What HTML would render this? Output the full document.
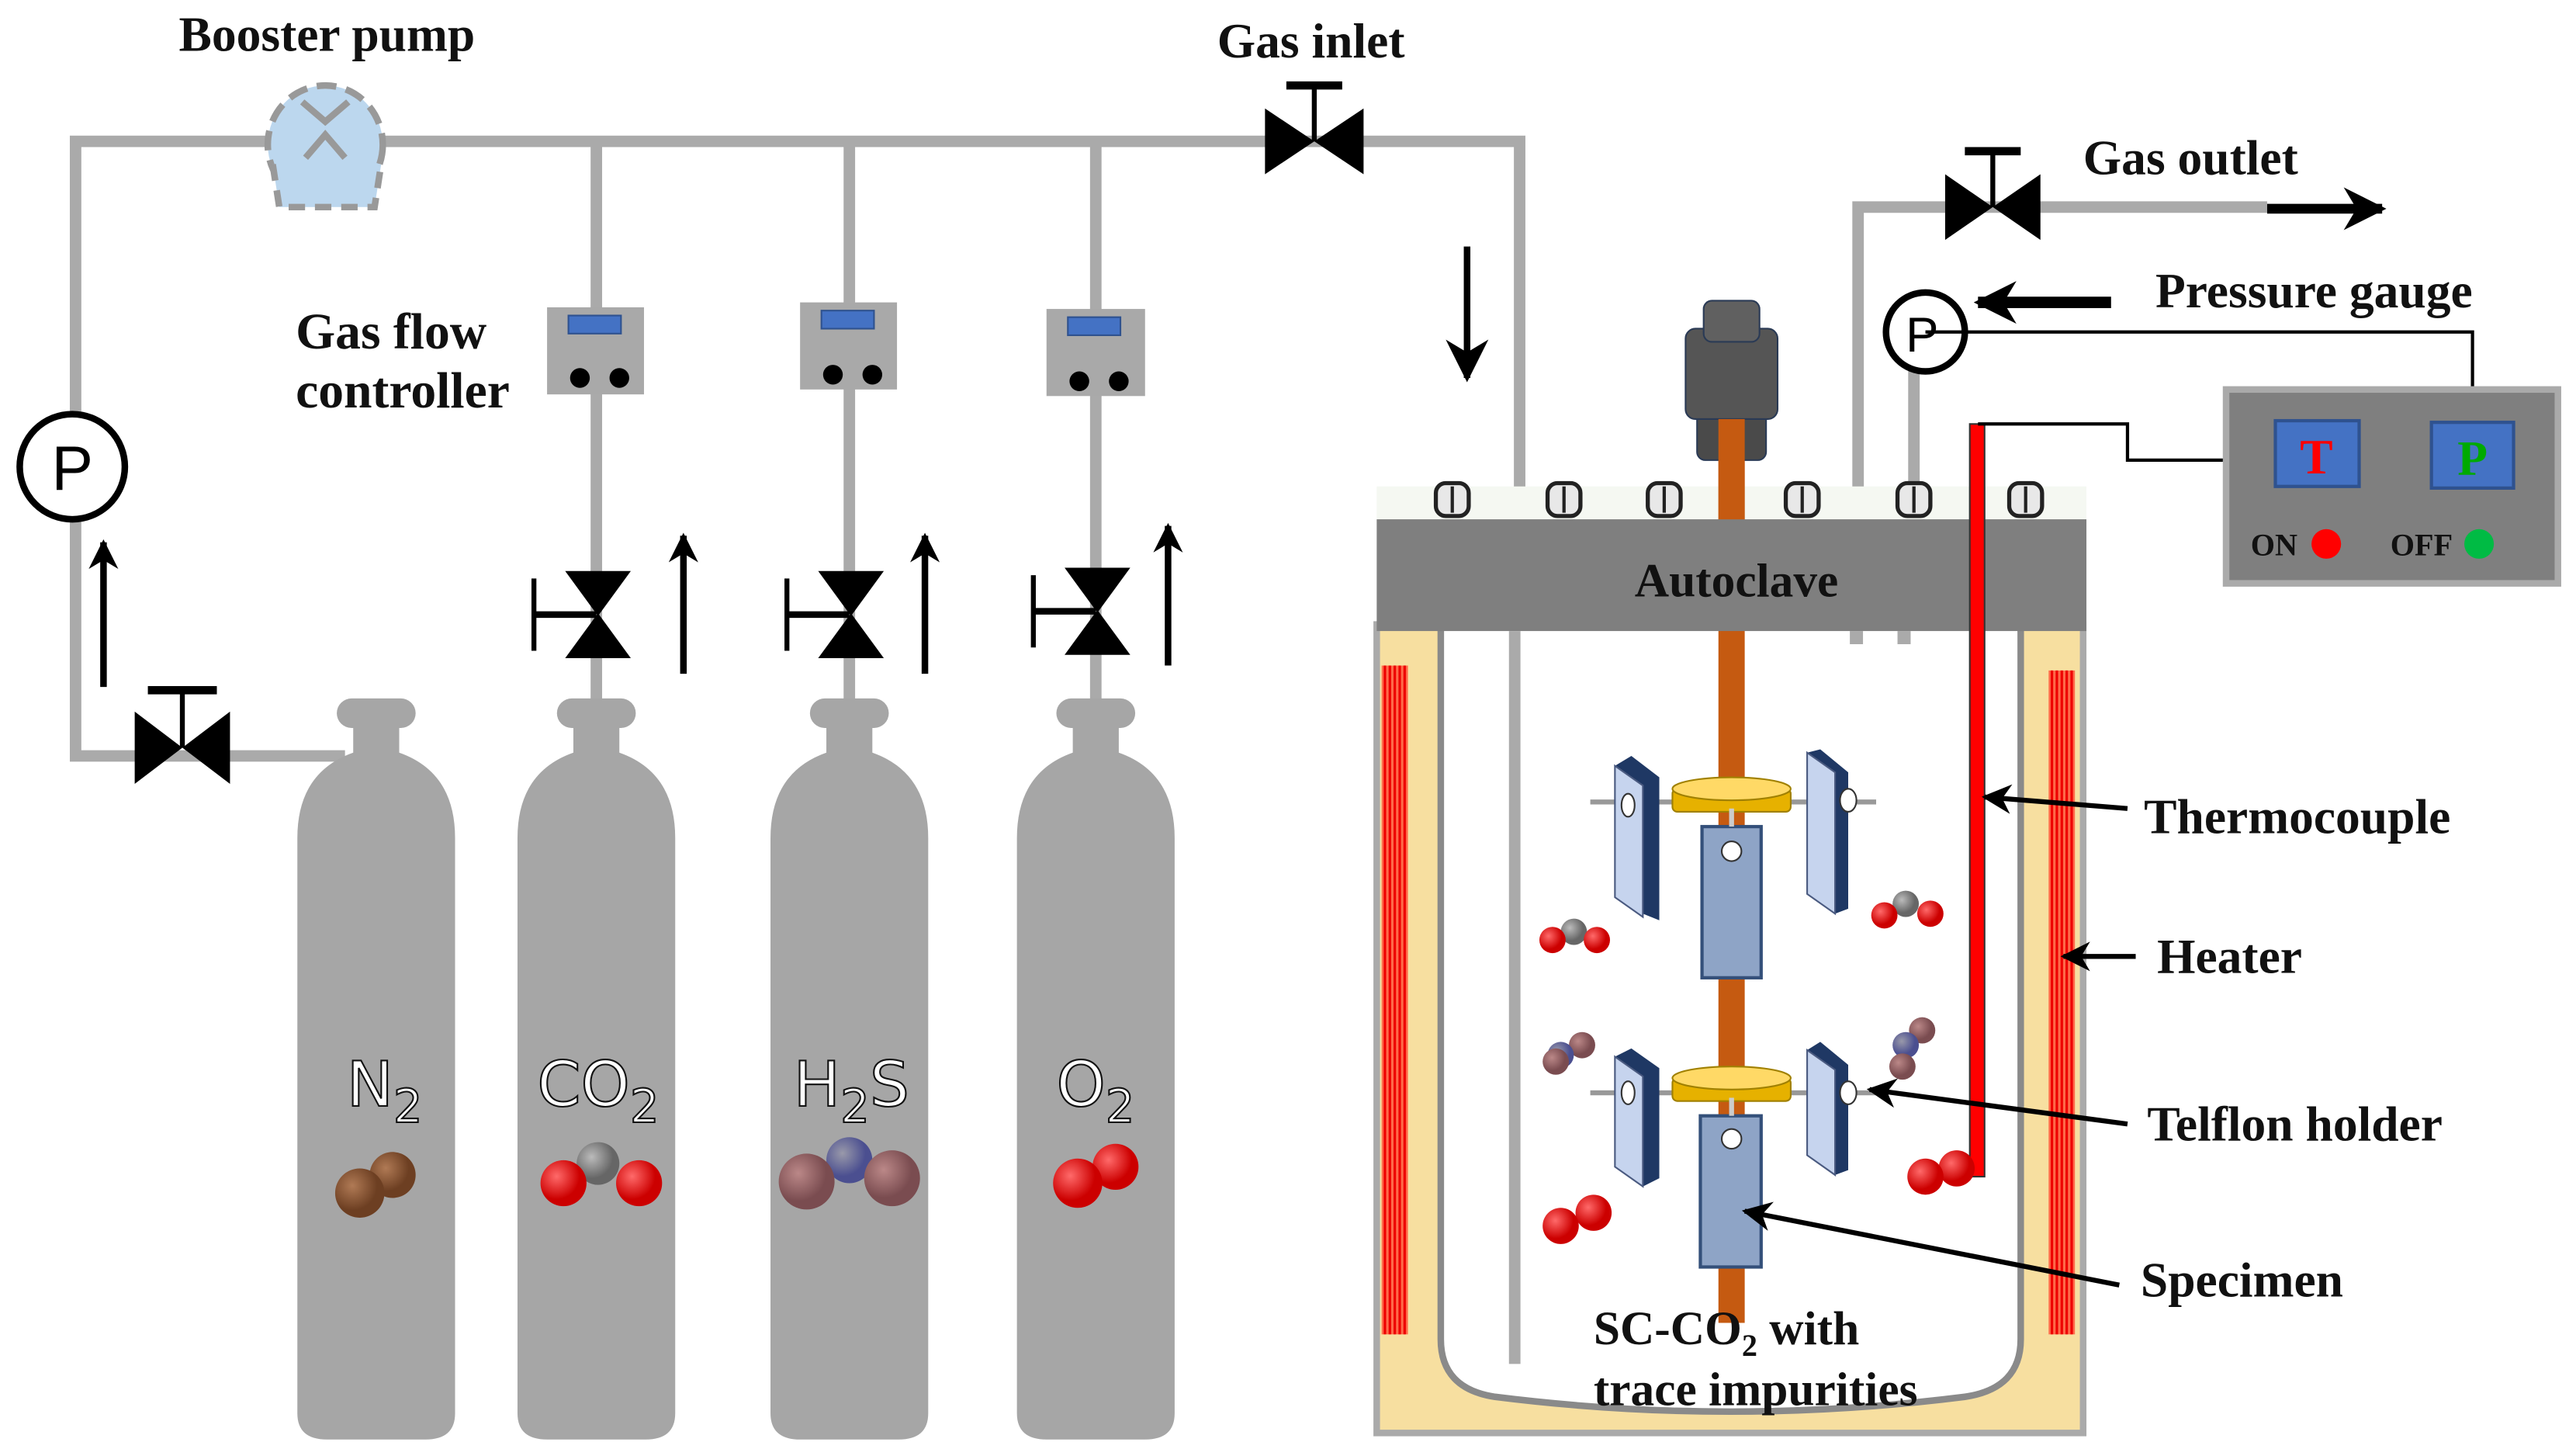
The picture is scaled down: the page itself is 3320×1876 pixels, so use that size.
<!DOCTYPE html>
<html><head><meta charset="utf-8"><style>
html,body{margin:0;padding:0;background:#fff}
svg{display:block}
.lb{font-family:"Liberation Serif",serif;font-weight:bold;fill:#111}
.gl{font-family:"DejaVu Sans","Liberation Sans",sans-serif;fill:#fff;stroke:#111;stroke-width:1}
</style></head><body>
<svg width="3320" height="1876" viewBox="0 0 1568 886" xmlns="http://www.w3.org/2000/svg">
<defs>
<marker id="ah" viewBox="0 0 10 10" refX="9" refY="5" markerWidth="4.5" markerHeight="4.5" orient="auto"><path d="M0,0 L10,5 L0,10 L3,5 Z" fill="#000"/></marker>
<marker id="ah2" viewBox="0 0 10 10" refX="9" refY="5" markerWidth="7" markerHeight="7" orient="auto" markerUnits="userSpaceOnUse"><path d="M0,0 L10,5 L0,10 L3,5 Z" fill="#000"/></marker>
<radialGradient id="gr" cx="35%" cy="35%"><stop offset="0" stop-color="#ff6a6a"/><stop offset="1" stop-color="#c00"/></radialGradient>
<radialGradient id="gb" cx="35%" cy="35%"><stop offset="0" stop-color="#b07a55"/><stop offset="1" stop-color="#6d3f22"/></radialGradient>
<radialGradient id="gg" cx="35%" cy="35%"><stop offset="0" stop-color="#bbb"/><stop offset="1" stop-color="#666"/></radialGradient>
<radialGradient id="gp" cx="35%" cy="35%"><stop offset="0" stop-color="#b88"/><stop offset="1" stop-color="#7a4c50"/></radialGradient>
<radialGradient id="gv" cx="35%" cy="35%"><stop offset="0" stop-color="#99a"/><stop offset="1" stop-color="#4b4f90"/></radialGradient>
<marker id="ab" viewBox="0 0 10 10" refX="9" refY="5" markerWidth="18" markerHeight="18" orient="auto" markerUnits="userSpaceOnUse"><path d="M0,0 L10,5 L0,10 L3,5 Z" fill="#000"/></marker>
<marker id="am" viewBox="0 0 10 10" refX="9" refY="5" markerWidth="26" markerHeight="26" orient="auto" markerUnits="userSpaceOnUse"><path d="M0,0 L10,5 L0,10 L3,5 Z" fill="#000"/></marker>
</defs>

<!-- pipes -->
<g stroke="#aaa" stroke-width="7" fill="none">
<path d="M925,828 V86 H46 V460 H210"/>
<line x1="363" y1="86" x2="363" y2="440"/>
<line x1="517" y1="86" x2="517" y2="440"/>
<line x1="667" y1="86" x2="667" y2="440"/>
<path d="M1131,390 V126 H1380"/>
<line x1="1165" y1="225" x2="1165" y2="300"/>
</g>

<!-- booster pump -->
<ellipse cx="198" cy="88" rx="35" ry="36" fill="#bcd7ee" stroke="#999" stroke-width="4" stroke-dasharray="12,6"/>
<path d="M166,100 L170,126 H228 L232,100" fill="#bcd7ee" stroke="#999" stroke-width="4" stroke-dasharray="10,6"/>
<path d="M184,62 L198,74 L212,62 M186,96 L198,82 L210,96" stroke="#999" stroke-width="4" fill="none"/>
<text class="lb" x="199" y="31" font-size="30" text-anchor="middle">Booster pump</text>

<!-- gas inlet valve -->
<path d="M770,66 L830,106 V66 L770,106 Z" fill="#000"/>
<line x1="800" y1="86" x2="800" y2="52" stroke="#000" stroke-width="3"/>
<line x1="783" y1="52" x2="817" y2="52" stroke="#000" stroke-width="5"/>
<text class="lb" x="798" y="35" font-size="30" text-anchor="middle">Gas inlet</text>
<line x1="893" y1="150" x2="893" y2="230" stroke="#000" stroke-width="4" marker-end="url(#am)"/>

<!-- flow controllers -->
<text class="lb" x="180" y="212" font-size="31">Gas flow</text>
<text class="lb" x="180" y="248" font-size="31">controller</text>
<g>
<rect x="333" y="187" width="59" height="53" fill="#a9a9a9"/><rect x="346" y="192" width="32" height="11" fill="#4472c4" stroke="#2f528f"/>
<circle cx="353" cy="230" r="6"/><circle cx="377" cy="230" r="6"/>
<rect x="487" y="184" width="59" height="53" fill="#a9a9a9"/><rect x="500" y="189" width="32" height="11" fill="#4472c4" stroke="#2f528f"/>
<circle cx="507" cy="228" r="6"/><circle cx="531" cy="228" r="6"/>
<rect x="637" y="188" width="60" height="53" fill="#a9a9a9"/><rect x="650" y="193" width="32" height="11" fill="#4472c4" stroke="#2f528f"/>
<circle cx="657" cy="232" r="6"/><circle cx="681" cy="232" r="6"/>
</g>

<!-- branch valves -->
<g fill="#000" stroke="#000">
<path d="M345,348 H383 L345,400 H383 Z"/><line x1="325" y1="374" x2="363" y2="374" stroke-width="4"/><line x1="325" y1="352" x2="325" y2="396" stroke-width="3"/>
<path d="M499,348 H537 L499,400 H537 Z"/><line x1="479" y1="374" x2="517" y2="374" stroke-width="4"/><line x1="479" y1="352" x2="479" y2="396" stroke-width="3"/>
<path d="M649,346 H687 L649,398 H687 Z"/><line x1="629" y1="372" x2="667" y2="372" stroke-width="4"/><line x1="629" y1="350" x2="629" y2="394" stroke-width="3"/>
</g>
<g stroke="#000" stroke-width="4">
<line x1="416" y1="410" x2="416" y2="326" marker-end="url(#ab)"/>
<line x1="563" y1="410" x2="563" y2="326" marker-end="url(#ab)"/>
<line x1="711" y1="405" x2="711" y2="320" marker-end="url(#ab)"/>
<line x1="63" y1="418" x2="63" y2="330" marker-end="url(#ab)"/>
</g>
<!-- left gauge & valve -->
<circle cx="44" cy="284" r="32" fill="#fff" stroke="#000" stroke-width="4"/>
<text x="44" y="298" font-family="Liberation Sans,sans-serif" font-size="38" text-anchor="middle">P</text>
<path d="M82,433 L140,477 V433 L82,477 Z" fill="#000"/>
<line x1="111" y1="455" x2="111" y2="420" stroke="#000" stroke-width="3"/>
<line x1="90" y1="420" x2="132" y2="420" stroke="#000" stroke-width="5"/>

<!-- cylinders -->
<g fill="#a6a6a6">
<g transform="translate(229,0)"><rect x="-24" y="425" width="48" height="18" rx="9"/><rect x="-14" y="440" width="28" height="20"/><path d="M-48,875 V510 Q-48,470 -14,458 H14 Q48,470 48,510 V860 Q48,876 30,876 H-30 Q-48,876 -48,860 Z"/></g>
<g transform="translate(363,0)"><rect x="-24" y="425" width="48" height="18" rx="9"/><rect x="-14" y="440" width="28" height="20"/><path d="M-48,875 V510 Q-48,470 -14,458 H14 Q48,470 48,510 V860 Q48,876 30,876 H-30 Q-48,876 -48,860 Z"/></g>
<g transform="translate(517,0)"><rect x="-24" y="425" width="48" height="18" rx="9"/><rect x="-14" y="440" width="28" height="20"/><path d="M-48,875 V510 Q-48,470 -14,458 H14 Q48,470 48,510 V860 Q48,876 30,876 H-30 Q-48,876 -48,860 Z"/></g>
<g transform="translate(667,0)"><rect x="-24" y="425" width="48" height="18" rx="9"/><rect x="-14" y="440" width="28" height="20"/><path d="M-48,875 V510 Q-48,470 -14,458 H14 Q48,470 48,510 V860 Q48,876 30,876 H-30 Q-48,876 -48,860 Z"/></g>
</g>
<text class="gl" x="211" y="673" font-size="38">N<tspan font-size="28" dy="10">2</tspan></text>
<text class="gl" x="327" y="673" font-size="38">CO<tspan font-size="28" dy="10">2</tspan></text>
<text class="gl" x="483" y="673" font-size="38">H<tspan font-size="28" dy="10">2</tspan><tspan dy="-10">S</tspan></text>
<text class="gl" x="643" y="673" font-size="38">O<tspan font-size="28" dy="10">2</tspan></text>
<circle cx="239" cy="715" r="14" fill="url(#gb)"/><circle cx="219" cy="726" r="15" fill="url(#gb)"/>
<circle cx="364" cy="708" r="13" fill="url(#gg)"/><circle cx="343" cy="720" r="14" fill="url(#gr)"/><circle cx="389" cy="720" r="14" fill="url(#gr)"/>
<circle cx="517" cy="706" r="14" fill="url(#gv)"/><circle cx="491" cy="719" r="17" fill="url(#gp)"/><circle cx="543" cy="717" r="17" fill="url(#gp)"/>
<circle cx="679" cy="710" r="14" fill="url(#gr)"/><circle cx="656" cy="720" r="15" fill="url(#gr)"/>

<!-- autoclave -->
<rect x="838" y="380" width="430" height="492" fill="#f7dfa0" stroke="#aaa" stroke-width="4"/>
<path d="M877,380 V815 Q877,845 910,850 Q1053,868 1196,850 Q1230,845 1230,815 V380 Z" fill="#fff" stroke="#8a8a8a" stroke-width="4"/>
<rect x="838" y="296" width="432" height="22" fill="#f5f8f2"/>
<!-- rod -->
<rect x="1046" y="250" width="16" height="555" fill="#c55a11"/>
<rect x="838" y="316" width="432" height="68" fill="#7f7f7f"/>
<text class="lb" x="1057" y="363" font-size="29" text-anchor="middle">Autoclave</text>
<rect x="1033" y="230" width="42" height="50" rx="5" fill="#4a4a4a" stroke="#2a3a55"/>
<rect x="1026" y="200" width="56" height="55" rx="6" fill="#555" stroke="#2a3a55"/>
<rect x="1037" y="183" width="34" height="25" rx="5" fill="#606060" stroke="#2a3a55"/>
<rect x="1046" y="255" width="16" height="61" fill="#c55a11"/>
<g fill="#e8e8e8" stroke="#222" stroke-width="2.5">
<rect x="874" y="294" width="20" height="20" rx="6"/><rect x="942" y="294" width="20" height="20" rx="6"/><rect x="1003" y="294" width="20" height="20" rx="6"/><rect x="1087" y="294" width="20" height="20" rx="6"/><rect x="1155" y="294" width="20" height="20" rx="6"/><rect x="1223" y="294" width="20" height="20" rx="6"/>
</g>
<g stroke="#222" stroke-width="2"><line x1="884" y1="296" x2="884" y2="312"/><line x1="952" y1="296" x2="952" y2="312"/><line x1="1013" y1="296" x2="1013" y2="312"/><line x1="1097" y1="296" x2="1097" y2="312"/><line x1="1165" y1="296" x2="1165" y2="312"/><line x1="1233" y1="296" x2="1233" y2="312"/></g>
<line x1="922" y1="384" x2="922" y2="830" stroke="#aaa" stroke-width="7"/>
<rect x="1126" y="384" width="8" height="8" fill="#aaa"/><rect x="1155" y="384" width="8" height="8" fill="#aaa"/>
<!-- heaters -->
<rect x="841" y="405" width="16" height="407" fill="#ff6a4a"/>
<rect x="1247" y="408" width="16" height="404" fill="#ff6a4a"/>
<g stroke="#e00" stroke-width="1.5">
<line x1="843" y1="405" x2="843" y2="812"/><line x1="846" y1="405" x2="846" y2="812"/><line x1="849" y1="405" x2="849" y2="812"/><line x1="852" y1="405" x2="852" y2="812"/><line x1="855" y1="405" x2="855" y2="812"/>
<line x1="1249" y1="408" x2="1249" y2="812"/><line x1="1252" y1="408" x2="1252" y2="812"/><line x1="1255" y1="408" x2="1255" y2="812"/><line x1="1258" y1="408" x2="1258" y2="812"/><line x1="1261" y1="408" x2="1261" y2="812"/>
</g>
<!-- thermocouple -->
<rect x="1199" y="258" width="9" height="458" fill="#f00" stroke="#333" stroke-width="1"/>
<path d="M1204,258 H1295 V280 H1385" stroke="#000" stroke-width="2" fill="none"/>
<!-- holders -->
<g>
<line x1="968" y1="488" x2="1142" y2="488" stroke="#999" stroke-width="3"/>
<path d="M983,466 L993,460 L1010,473 V560 L1000,556 Z" fill="#1f3864"/><path d="M983,466 L1000,478 V558 L983,546 Z" fill="#c6d4ee" stroke="#4a5a80"/>
<ellipse cx="991" cy="490" rx="4" ry="7" fill="#fff" stroke="#333"/>
<path d="M1100,458 L1108,456 L1125,470 V553 L1117,556 Z" fill="#1f3864"/><path d="M1100,458 L1117,470 V556 L1100,544 Z" fill="#c6d4ee" stroke="#4a5a80"/>
<ellipse cx="1125" cy="487" rx="5" ry="7" fill="#fff" stroke="#333"/>
<rect x="1018" y="480" width="72" height="14" rx="3" fill="#e6b100" stroke="#a08000"/>
<ellipse cx="1054" cy="480" rx="36" ry="7" fill="#ffd966" stroke="#a08000"/>
<rect x="1036" y="503" width="36" height="92" fill="#8ea4c6" stroke="#34507a" stroke-width="2"/>
<circle cx="1054" cy="518" r="6" fill="#fff" stroke="#333"/>
<line x1="1054" y1="492" x2="1054" y2="503" stroke="#ccc" stroke-width="3"/>
</g>
<g>
<line x1="968" y1="665" x2="1142" y2="665" stroke="#999" stroke-width="3"/>
<path d="M983,643 L993,638 L1010,650 V717 L1000,722 Z" fill="#1f3864"/><path d="M983,643 L1000,655 V722 L983,710 Z" fill="#c6d4ee" stroke="#4a5a80"/>
<ellipse cx="991" cy="665" rx="4" ry="7" fill="#fff" stroke="#333"/>
<path d="M1100,639 L1108,634 L1125,648 V712 L1117,715 Z" fill="#1f3864"/><path d="M1100,639 L1117,651 V715 L1100,703 Z" fill="#c6d4ee" stroke="#4a5a80"/>
<ellipse cx="1125" cy="665" rx="5" ry="7" fill="#fff" stroke="#333"/>
<rect x="1018" y="656" width="72" height="14" rx="3" fill="#e6b100" stroke="#a08000"/>
<ellipse cx="1054" cy="656" rx="36" ry="7" fill="#ffd966" stroke="#a08000"/>
<rect x="1035" y="679" width="37" height="92" fill="#8ea4c6" stroke="#34507a" stroke-width="2"/>
<circle cx="1054" cy="693" r="6" fill="#fff" stroke="#333"/>
<line x1="1054" y1="668" x2="1054" y2="679" stroke="#ccc" stroke-width="3"/>
</g>
<!-- molecules in autoclave -->
<circle cx="958" cy="567" r="8" fill="url(#gg)"/><circle cx="945" cy="572" r="8" fill="url(#gr)"/><circle cx="972" cy="572" r="8" fill="url(#gr)"/>
<circle cx="1160" cy="550" r="8" fill="url(#gg)"/><circle cx="1147" cy="557" r="8" fill="url(#gr)"/><circle cx="1175" cy="556" r="8" fill="url(#gr)"/>
<circle cx="963" cy="636" r="8" fill="url(#gp)"/><circle cx="950" cy="642" r="8" fill="url(#gv)"/><circle cx="947" cy="646" r="8" fill="url(#gp)"/>
<circle cx="1170" cy="627" r="8" fill="url(#gp)"/><circle cx="1160" cy="636" r="8" fill="url(#gv)"/><circle cx="1158" cy="649" r="8" fill="url(#gp)"/>
<circle cx="1191" cy="711" r="11" fill="url(#gr)"/><circle cx="1172" cy="716" r="11" fill="url(#gr)"/>
<circle cx="970" cy="738" r="11" fill="url(#gr)"/><circle cx="950" cy="746" r="11" fill="url(#gr)"/>
<text class="lb" x="970" y="818" font-size="29">SC-CO<tspan font-size="19" dy="7">2</tspan><tspan dy="-7"> with</tspan></text>
<text class="lb" x="970" y="855" font-size="29">trace impurities</text>

<!-- gas outlet -->
<path d="M1184,106 L1242,146 V106 L1184,146 Z" fill="#000"/>
<line x1="1213" y1="126" x2="1213" y2="92" stroke="#000" stroke-width="3"/>
<line x1="1196" y1="92" x2="1230" y2="92" stroke="#000" stroke-width="5"/>
<text class="lb" x="1268" y="106" font-size="30">Gas outlet</text>
<line x1="1380" y1="127" x2="1450" y2="127" stroke="#000" stroke-width="6" marker-end="url(#am)"/>
<!-- pressure gauge -->
<circle cx="1172" cy="202" r="24" fill="#fff" stroke="#000" stroke-width="4"/>
<text x="1170" y="214" font-family="Liberation Sans,sans-serif" font-size="30" text-anchor="middle">P</text>
<path d="M1172,202 H1505 V262" stroke="#000" stroke-width="2" fill="none"/>
<line x1="1285" y1="184" x2="1204" y2="184" stroke="#000" stroke-width="7" marker-end="url(#am)"/>
<text class="lb" x="1312" y="187" font-size="30">Pressure gauge</text>
<!-- control box -->
<rect x="1355" y="237" width="202" height="118" fill="#7f7f7f" stroke="#aaa" stroke-width="4"/>
<rect x="1385" y="256" width="51" height="40" fill="#4472c4" stroke="#2f528f" stroke-width="2"/>
<rect x="1480" y="257" width="50" height="40" fill="#4472c4" stroke="#2f528f" stroke-width="2"/>
<text x="1410" y="288" font-family="Liberation Serif,serif" font-weight="bold" font-size="30" fill="#f00" text-anchor="middle">T</text>
<text x="1505" y="289" font-family="Liberation Serif,serif" font-weight="bold" font-size="30" fill="#0a0" text-anchor="middle">P</text>
<text class="lb" x="1370" y="338" font-size="19">ON</text><circle cx="1416" cy="331" r="9" fill="#f00"/>
<text class="lb" x="1455" y="338" font-size="19">OFF</text><circle cx="1509" cy="331" r="9" fill="#0b4"/>

<!-- right labels -->
<g stroke="#000" stroke-width="3">
<line x1="1295" y1="492" x2="1208" y2="485" marker-end="url(#ab)"/>
<line x1="1300" y1="582" x2="1256" y2="582" marker-end="url(#ab)"/>
<line x1="1295" y1="684" x2="1138" y2="663" marker-end="url(#ab)"/>
<line x1="1290" y1="782" x2="1062" y2="737" marker-end="url(#ab)"/>
</g>
<text class="lb" x="1305" y="507" font-size="30">Thermocouple</text>
<text class="lb" x="1313" y="592" font-size="30">Heater</text>
<text class="lb" x="1307" y="694" font-size="30">Telflon holder</text>
<text class="lb" x="1303" y="789" font-size="30">Specimen</text>
</svg>
</body></html>
